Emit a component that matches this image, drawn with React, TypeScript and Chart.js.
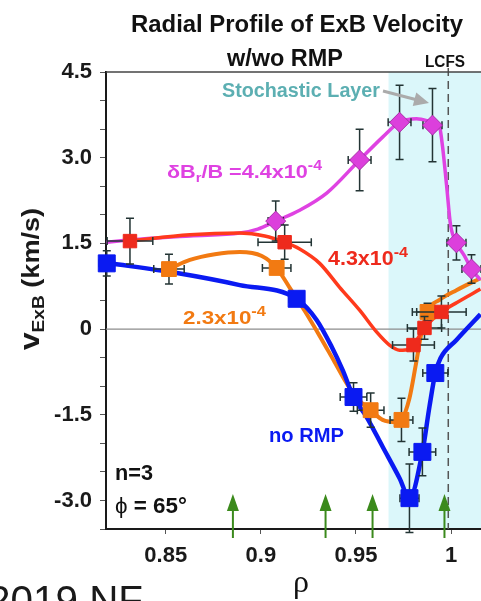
import React, { useEffect, useRef } from 'react';
import { Chart, registerables } from 'chart.js';

Chart.register(...registerables);

// ---------- axes ----------
const xMin = 0.8186;
const xMax = 1.0157;
const yMin = -3.5;
const yMax = 4.5;
const xStep = 0.05;
const yStep = 0.5;
const yLabelEvery = 1.5;

// ---------- measured points (rho, v_ExB) with error bars ----------
const blueRho = [0.819, 0.9188, 0.9487, 0.9781, 0.9849, 0.9917];
const blueV = [1.15, 0.53, -1.19, -2.96, -2.15, -0.77];
const blueErrRho = [0.004, 0.004, 0.007, 0.005, 0.007, 0.0066];
const blueErrV = [0.22, 0.1, 0.25, 0.6, 0.42, 0.12];

const orangeRho = [0.8517, 0.9083, 0.9577, 0.9739, 0.9876];
const orangeV = [1.05, 1.07, -1.42, -1.59, 0.3];
const orangeErrRho = [0.008, 0.0075, 0.007, 0.006, 0.008];
const orangeErrV = [0.26, 0.1, 0.3, 0.38, 0.15];

const redRho = [0.8312, 0.9125, 0.9802, 0.986, 0.9949];
const redV = [1.54, 1.52, -0.28, 0.02, 0.3];
const redErrRho = [0.012, 0.014, 0.011, 0.009, 0.013];
const redErrV = [0.4, 0.3, 0.28, 0.2, 0.28];

const magRho = [0.9078, 0.9519, 0.9729, 0.9902, 1.0028, 1.0107];
const magV = [1.89, 2.96, 3.62, 3.57, 1.51, 1.05];
const magErrRho = [0.004, 0.006, 0.006, 0.005, 0.005, 0.005];
const magErrV = [0.35, 0.54, 0.65, 0.64, 0.3, 0.25];

// ---------- fitted curves ----------
const blueCurveRho = [0.819, 0.8559, 0.8889, 0.9188, 0.9293, 0.9372, 0.943, 0.9487, 0.9556, 0.964, 0.9729, 0.9781, 0.9849, 0.9886, 0.9917, 0.9944, 1.0028, 1.0154];
const blueCurveV = [1.16, 0.98, 0.77, 0.53, 0.16, -0.31, -0.72, -1.19, -1.54, -2.06, -2.61, -2.96, -2.15, -1.36, -0.77, -0.51, -0.19, 0.26];

const orangeCurveRho = [0.8517, 0.8627, 0.8758, 0.8889, 0.9005, 0.9083, 0.9152, 0.923, 0.9309, 0.9388, 0.9466, 0.9529, 0.9577, 0.964, 0.9713, 0.9739, 0.9781, 0.9813, 0.9844, 0.9876, 0.9939, 1.0028, 1.0154];
const orangeCurveV = [1.05, 1.21, 1.31, 1.35, 1.28, 1.07, 0.72, 0.32, -0.12, -0.58, -1.03, -1.29, -1.42, -1.59, -1.63, -1.59, -1.21, -0.65, -0.07, 0.32, 0.51, 0.68, 0.89];

const redCurveRho = [0.8312, 0.8627, 0.8889, 0.902, 0.9125, 0.9204, 0.9309, 0.9414, 0.9519, 0.9608, 0.9676, 0.9729, 0.9781, 0.9802, 0.986, 0.9949, 1.0033, 1.0154];
const redCurveV = [1.54, 1.65, 1.68, 1.63, 1.52, 1.4, 1.15, 0.73, 0.33, -0.05, -0.28, -0.37, -0.35, -0.28, 0.02, 0.3, 0.47, 0.7];

const magCurveRho = [0.8186, 0.8312, 0.8627, 0.8889, 0.8984, 0.9078, 0.9204, 0.9346, 0.9519, 0.964, 0.9729, 0.9818, 0.9902, 0.9939, 0.9955, 0.9976, 0.9997, 1.0028, 1.007, 1.0107, 1.0154];
const magCurveV = [1.52, 1.56, 1.63, 1.68, 1.75, 1.89, 2.08, 2.38, 2.96, 3.36, 3.62, 3.68, 3.62, 3.54, 3.19, 2.52, 1.82, 1.51, 1.28, 1.05, 0.86];

// ---------- annotations ----------
const stochasticStartRho = 0.9671;
const lcfsRho = 0.9985;
const arrowRho = [0.8853, 0.934, 0.9587, 0.9965];

const C_BLUE = '#0a1af2';
const C_ORANGE = '#f27a12';
const C_RED = '#ee2a1c';
const C_RED_LINE = '#ff3a1c';
const C_MAG = '#df42e2';

const SANS = '"Liberation Sans", Arial, Helvetica, sans-serif';
const SERIF = '"Liberation Serif", "Times New Roman", serif';

type Run = { t: string; s: number; dy?: number; w?: string; f?: string };

function drawRuns(
  ctx: CanvasRenderingContext2D,
  runs: Run[],
  x: number,
  y: number,
  color: string,
  align: 'left' | 'center',
  targetW?: number
) {
  ctx.save();
  ctx.fillStyle = color;
  ctx.textBaseline = 'alphabetic';
  ctx.textAlign = 'left';
  let w = 0;
  const ws = runs.map((r) => {
    ctx.font = `${r.w ?? 'bold'} ${r.s}px ${r.f ?? SANS}`;
    const m = ctx.measureText(r.t).width;
    w += m;
    return m;
  });
  const sx = targetW ? targetW / w : 1;
  const total = w * sx;
  const x0 = align === 'center' ? x - total / 2 : x;
  ctx.translate(x0, y);
  ctx.scale(sx, 1);
  let cx = 0;
  runs.forEach((r, i) => {
    ctx.font = `${r.w ?? 'bold'} ${r.s}px ${r.f ?? SANS}`;
    ctx.fillText(r.t, cx, r.dy ?? 0);
    cx += ws[i];
  });
  ctx.restore();
}

function pts(xs: number[], ys: number[]) {
  return xs.map((x, i) => ({ x, y: ys[i] }));
}

const errorSets: Record<string, { rho: number[]; v: number[]; er: number[]; ev: number[] }> = {
  blue: { rho: blueRho, v: blueV, er: blueErrRho, ev: blueErrV },
  orange: { rho: orangeRho, v: orangeV, er: orangeErrRho, ev: orangeErrV },
  red: { rho: redRho, v: redV, er: redErrRho, ev: redErrV },
  mag: { rho: magRho, v: magV, er: magErrRho, ev: magErrV },
};

const overlayPlugin = {
  id: 'overlay',
  beforeDraw(chart: any) {
    const { ctx, chartArea } = chart;
    const xs = chart.scales.x;
    const x0 = xs.getPixelForValue(stochasticStartRho);
    ctx.save();
    ctx.fillStyle = '#dbf7fa';
    ctx.fillRect(x0, chartArea.top, chartArea.right - x0, chartArea.bottom - chartArea.top);
    ctx.restore();
  },
  beforeDatasetsDraw(chart: any) {
    const { ctx, chartArea } = chart;
    const xs = chart.scales.x;
    const ys = chart.scales.y;
    ctx.save();
    const y0 = ys.getPixelForValue(0);
    ctx.strokeStyle = '#8c8c8c';
    ctx.lineWidth = 1.2;
    ctx.beginPath();
    ctx.moveTo(chartArea.left, y0);
    ctx.lineTo(chartArea.right, y0);
    ctx.stroke();
    const xl = xs.getPixelForValue(lcfsRho);
    ctx.strokeStyle = '#555';
    ctx.lineWidth = 1.5;
    ctx.setLineDash([8, 5]);
    ctx.beginPath();
    ctx.moveTo(xl, chartArea.top - 4);
    ctx.lineTo(xl, chartArea.bottom);
    ctx.stroke();
    ctx.setLineDash([]);
    ctx.strokeStyle = '#444';
    ctx.lineWidth = 1.5;
    ctx.beginPath();
    ctx.moveTo(chartArea.left, chartArea.top);
    ctx.lineTo(chartArea.right, chartArea.top);
    ctx.stroke();
    ctx.restore();
  },
  beforeDatasetDraw(chart: any, args: any) {
    const ds = chart.data.datasets[args.index];
    const key = ds.errKey;
    if (!key) return;
    const set = errorSets[key];
    const { ctx } = chart;
    const xs = chart.scales.x;
    const ys = chart.scales.y;
    ctx.save();
    ctx.strokeStyle = '#233434';
    ctx.lineWidth = 1.5;
    const cap = 4;
    set.rho.forEach((r, i) => {
      const px = xs.getPixelForValue(r);
      const py = ys.getPixelForValue(set.v[i]);
      const y1 = ys.getPixelForValue(set.v[i] + set.ev[i]);
      const y2 = ys.getPixelForValue(set.v[i] - set.ev[i]);
      const x1 = xs.getPixelForValue(r - set.er[i]);
      const x2 = xs.getPixelForValue(r + set.er[i]);
      ctx.beginPath();
      ctx.moveTo(px, y1);
      ctx.lineTo(px, y2);
      ctx.moveTo(px - cap, y1);
      ctx.lineTo(px + cap, y1);
      ctx.moveTo(px - cap, y2);
      ctx.lineTo(px + cap, y2);
      ctx.moveTo(x1, py);
      ctx.lineTo(x2, py);
      ctx.moveTo(x1, py - cap);
      ctx.lineTo(x1, py + cap);
      ctx.moveTo(x2, py - cap);
      ctx.lineTo(x2, py + cap);
      ctx.stroke();
    });
    ctx.restore();
  },
  afterDraw(chart: any) {
    const { ctx } = chart;
    const xs = chart.scales.x;

    ctx.save();
    ctx.strokeStyle = '#3b8a1c';
    ctx.fillStyle = '#3b8a1c';
    ctx.lineWidth = 2;
    arrowRho.forEach((r) => {
      const px = xs.getPixelForValue(r);
      ctx.beginPath();
      ctx.moveTo(px, 538);
      ctx.lineTo(px, 506);
      ctx.stroke();
      ctx.beginPath();
      ctx.moveTo(px, 494);
      ctx.lineTo(px - 6, 511);
      ctx.lineTo(px + 6, 511);
      ctx.closePath();
      ctx.fill();
    });
    ctx.strokeStyle = '#ababab';
    ctx.fillStyle = '#ababab';
    ctx.lineWidth = 3;
    const ax0 = 383, ay0 = 91, ax1 = 429, ay1 = 103;
    const ang = Math.atan2(ay1 - ay0, ax1 - ax0);
    ctx.beginPath();
    ctx.moveTo(ax0, ay0);
    ctx.lineTo(ax1 - 10 * Math.cos(ang), ay1 - 10 * Math.sin(ang));
    ctx.stroke();
    ctx.beginPath();
    ctx.moveTo(ax1, ay1);
    ctx.lineTo(ax1 - 15 * Math.cos(ang) + 7 * Math.sin(ang), ay1 - 15 * Math.sin(ang) - 7 * Math.cos(ang));
    ctx.lineTo(ax1 - 15 * Math.cos(ang) - 7 * Math.sin(ang), ay1 - 15 * Math.sin(ang) + 7 * Math.cos(ang));
    ctx.closePath();
    ctx.fill();
    ctx.restore();

    drawRuns(ctx, [{ t: 'Radial Profile of ExB Velocity', s: 24 }], 297, 32, '#111', 'center', 332);
    drawRuns(ctx, [{ t: 'w/wo RMP', s: 24 }], 285, 66, '#111', 'center', 116);
    drawRuns(ctx, [{ t: 'LCFS', s: 16 }], 425, 67, '#111', 'left', 40);
    drawRuns(ctx, [{ t: 'Stochastic Layer', s: 20 }], 222, 97, '#5cafb2', 'left', 158);
    drawRuns(
      ctx,
      [
        { t: 'δB', s: 19 },
        { t: 'r', s: 13, dy: 4 },
        { t: '/B =4.4x10', s: 19 },
        { t: '-4', s: 14, dy: -8 },
      ],
      167, 178, C_MAG, 'left', 155
    );
    drawRuns(ctx, [{ t: '4.3x10', s: 20 }, { t: '-4', s: 15, dy: -8 }], 328, 265, C_RED, 'left', 80);
    drawRuns(ctx, [{ t: '2.3x10', s: 19 }, { t: '-4', s: 14, dy: -8 }], 183, 324, C_ORANGE, 'left', 83);
    drawRuns(ctx, [{ t: 'no RMP', s: 20 }], 269, 442, C_BLUE, 'left', 75);
    drawRuns(ctx, [{ t: 'n=3', s: 22 }], 115, 480, '#111', 'left', 38);
    drawRuns(ctx, [{ t: 'ϕ', s: 22, w: 'normal' }, { t: ' = 65°', s: 22 }], 115, 513, '#111', 'left', 72);
    drawRuns(ctx, [{ t: 'ρ', s: 32, w: 'normal', f: SERIF }], 301, 592, '#111', 'center');
    drawRuns(ctx, [{ t: '2019 NF', s: 41, w: 'normal' }], -12, 614, '#1a1a1a', 'left', 155);

    ctx.save();
    ctx.translate(39, 279);
    ctx.rotate(-Math.PI / 2);
    drawRuns(
      ctx,
      [
        { t: 'v', s: 28 },
        { t: 'ExB', s: 17, dy: 5 },
        { t: ' (km/s)', s: 24 },
      ],
      0, 0, '#1a1a1a', 'center', 142
    );
    ctx.restore();
  },
};

export default function App() {
  const canvasRef = useRef<HTMLCanvasElement | null>(null);

  useEffect(() => {
    const canvas = canvasRef.current;
    if (!canvas) return;

    const curve = (xs: number[], ys: number[], color: string, width: number, order: number) => ({
      data: pts(xs, ys),
      showLine: true,
      borderColor: color,
      borderWidth: width,
      pointRadius: 0,
      cubicInterpolationMode: 'monotone' as const,
      order,
    });
    const markers = (
      xs: number[], ys: number[], color: string, border: string, style: string, r: number, order: number, errKey: string
    ) => ({
      data: pts(xs, ys),
      showLine: false,
      pointStyle: style,
      pointRadius: r,
      backgroundColor: color,
      borderColor: border,
      borderWidth: 1,
      clip: false,
      order,
      errKey,
    });

    const chart = new Chart(canvas, {
      type: 'scatter',
      data: {
        datasets: [
          curve(blueCurveRho, blueCurveV, C_BLUE, 4.5, 11),
          curve(redCurveRho, redCurveV, C_RED_LINE, 3.5, 12),
          curve(magCurveRho, magCurveV, C_MAG, 3.5, 13),
          curve(orangeCurveRho, orangeCurveV, C_ORANGE, 4, 14),
          markers(blueRho, blueV, C_BLUE, C_BLUE, 'rect', 12, 1, 'blue'),
          markers(redRho, redV, C_RED, C_RED, 'rect', 9.5, 2, 'red'),
          markers(magRho, magV, '#dc3fdc', '#a82ea8', 'rectRot', 10, 3, 'mag'),
          markers(orangeRho, orangeV, C_ORANGE, C_ORANGE, 'rect', 10.5, 4, 'orange'),
        ] as any,
      },
      options: {
        animation: false,
        responsive: false,
        events: [],
        layout: { autoPadding: false, padding: { left: 0, right: 0, top: 72, bottom: 0 } },
        plugins: {
          legend: { display: false },
          tooltip: { enabled: false },
          title: { display: false },
        },
        scales: {
          x: {
            type: 'linear',
            min: xMin,
            max: xMax,
            ticks: {
              stepSize: xStep,
              includeBounds: false,
              autoSkip: false,
              maxRotation: 0,
              padding: 9,
              color: '#1a1a1a',
              font: { family: SANS, size: 22, weight: 'bold' },
              callback: (v: any) => String(Math.round(Number(v) * 100) / 100),
            },
            grid: { drawOnChartArea: false, drawTicks: true, tickLength: 5, color: '#555', lineWidth: 1 },
            border: { display: true, color: '#1a1a1a', width: 2 },
            afterFit: (s: any) => {
              s.height = 72;
              s.paddingLeft = 0;
              s.paddingRight = 0;
            },
          },
          y: {
            type: 'linear',
            min: yMin,
            max: yMax,
            ticks: {
              stepSize: yStep,
              autoSkip: false,
              padding: 8,
              color: '#1a1a1a',
              font: { family: SANS, size: 22, weight: 'bold' },
              callback: (v: any) => {
                const n = Number(v);
                const q = n / yLabelEvery;
                if (Math.abs(q - Math.round(q)) > 1e-6) return '';
                if (Math.abs(n) < 1e-9) return '0';
                return n.toFixed(1);
              },
            },
            grid: { drawOnChartArea: false, drawTicks: true, tickLength: 6, color: '#555', lineWidth: 1 },
            border: { display: true, color: '#1a1a1a', width: 2 },
            afterFit: (s: any) => {
              s.width = 106;
              s.paddingTop = 0;
              s.paddingBottom = 0;
            },
          },
        },
      } as any,
      plugins: [overlayPlugin as any],
    });

    return () => {
      chart.destroy();
    };
  }, []);

  return (
    <div style={{ position: 'fixed', left: 0, top: 0, width: 481, height: 601, overflow: 'hidden', background: '#fff' }}>
      <canvas ref={canvasRef} width={481} height={601} style={{ display: 'block' }} />
    </div>
  );
}
